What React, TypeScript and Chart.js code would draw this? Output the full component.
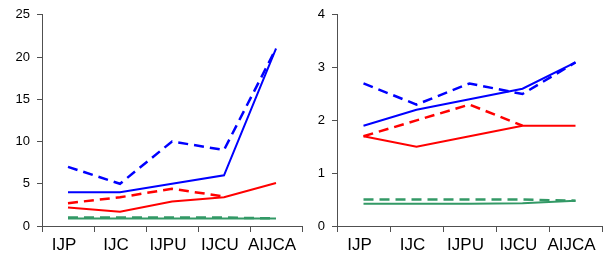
import React, { useEffect, useRef } from "react";
import { Chart, registerables } from "chart.js";

Chart.register(...registerables);

const categories = ["IJP", "IJC", "IJPU", "IJCU", "AIJCA"];

// Left panel values
const leftBlueDashed = [7, 5, 10, 9, 21];
const leftBlueSolid = [4, 4, 5, 6, 21];
const leftRedDashed = [2.7, 3.4, 4.4, 3.5, null];
const leftRedSolid = [2.2, 1.7, 2.9, 3.4, 5.1];
const leftGreenDashed = [1.0, 1.0, 1.0, 1.0, 0.9];
const leftGreenSolid = [0.9, 0.9, 0.9, 0.9, 0.9];

// Right panel values
const rightBlueDashed = [2.7, 2.3, 2.7, 2.5, 3.1];
const rightBlueSolid = [1.9, 2.2, 2.4, 2.6, 3.1];
const rightRedDashed = [1.7, 2.0, 2.3, 1.9, null];
const rightRedSolid = [1.7, 1.5, 1.7, 1.9, 1.9];
const rightGreenDashed = [0.5, 0.5, 0.5, 0.5, 0.48];
const rightGreenSolid = [0.42, 0.42, 0.42, 0.43, 0.48];

const leftYMax = 25;
const leftYStep = 5;
const rightYMax = 4;
const rightYStep = 1;

const BLUE = "#0000ff";
const RED = "#ff0000";
const GREEN = "#339966";
const AXIS = "#505050";
const FONT = "'Liberation Sans', Arial, sans-serif";

function ds(data: (number | null)[], color: string, dashed: boolean) {
  return {
    data,
    borderColor: color,
    backgroundColor: color,
    borderWidth: dashed ? 2.5 : 2,
    borderDash: dashed ? [10, 6] : [],
    pointRadius: 0,
    tension: 0,
    fill: false,
    spanGaps: false,
  };
}

type PanelProps = {
  series: { data: (number | null)[]; color: string; dashed: boolean }[];
  yMax: number;
  yStep: number;
  yWidth: number;
  padRight: number;
};

function Panel({ series, yMax, yStep, yWidth, padRight }: PanelProps) {
  const ref = useRef<HTMLCanvasElement | null>(null);
  useEffect(() => {
    if (!ref.current) return;
    const chart = new Chart(ref.current, {
      type: "line",
      data: {
        labels: categories,
        datasets: series.map((s) => ds(s.data, s.color, s.dashed)),
      },
      options: {
        animation: false,
        responsive: false,
        maintainAspectRatio: false,
        layout: { padding: { top: 13, right: padRight, left: 0, bottom: 0 } },
        plugins: { legend: { display: false }, tooltip: { enabled: false } },
        scales: {
          x: {
            type: "category",
            offset: true,
            grid: {
              display: true,
              drawOnChartArea: false,
              drawTicks: true,
              tickLength: 6,
              color: AXIS,
              offset: true,
            },
            border: { display: true, color: AXIS, width: 1 },
            ticks: {
              color: "#000",
              font: { family: FONT, size: 17 },
              padding: 3,
              labelOffset: -4,
              maxRotation: 0,
              autoSkip: false,
            },
            afterFit: (scale: any) => {
              scale.height = 34;
            },
          },
          y: {
            min: 0,
            max: yMax,
            ticks: {
              stepSize: yStep,
              color: "#000",
              font: { family: FONT, size: 13 },
              padding: 7,
            },
            grid: {
              display: true,
              drawOnChartArea: false,
              drawTicks: true,
              tickLength: 5,
              color: AXIS,
            },
            border: { display: true, color: AXIS, width: 1 },
            afterFit: (scale: any) => {
              scale.width = yWidth;
            },
          },
        },
      },
    });
    return () => chart.destroy();
  }, []);
  return <canvas ref={ref} width={304} height={260} style={{ display: "block" }} />;
}

export default function App() {
  return (
    <div
      style={{
        position: "fixed",
        left: 0,
        top: 0,
        width: 608,
        height: 260,
        display: "flex",
        background: "#fff",
      }}
    >
      <Panel
        yMax={leftYMax}
        yStep={leftYStep}
        yWidth={42}
        padRight={2}
        series={[
          { data: leftGreenSolid, color: GREEN, dashed: false },
          { data: leftGreenDashed, color: GREEN, dashed: true },
          { data: leftRedSolid, color: RED, dashed: false },
          { data: leftRedDashed, color: RED, dashed: true },
          { data: leftBlueSolid, color: BLUE, dashed: false },
          { data: leftBlueDashed, color: BLUE, dashed: true },
        ]}
      />
      <Panel
        yMax={rightYMax}
        yStep={rightYStep}
        yWidth={33}
        padRight={6}
        series={[
          { data: rightGreenSolid, color: GREEN, dashed: false },
          { data: rightGreenDashed, color: GREEN, dashed: true },
          { data: rightRedSolid, color: RED, dashed: false },
          { data: rightRedDashed, color: RED, dashed: true },
          { data: rightBlueSolid, color: BLUE, dashed: false },
          { data: rightBlueDashed, color: BLUE, dashed: true },
        ]}
      />
    </div>
  );
}
